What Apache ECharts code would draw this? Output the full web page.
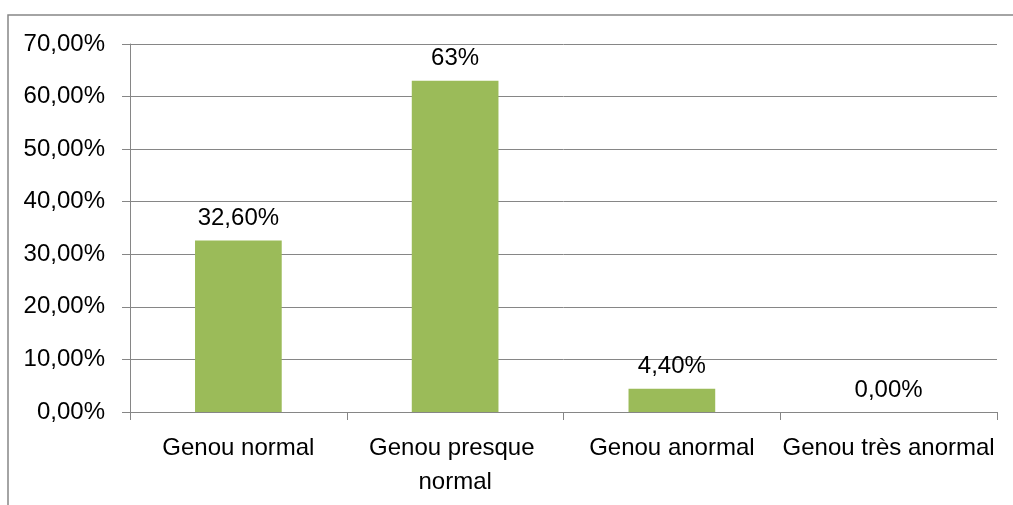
<!DOCTYPE html>
<html>
<head>
<meta charset="utf-8">
<script src="https://cdn.jsdelivr.net/npm/echarts@6/dist/echarts.min.js"></script>
<style>html,body{margin:0;padding:0;background:#fff;}#c{width:1013px;height:505px;}</style>
</head>
<body>
<div id="c"></div>
<script>
const categories = ['Genou normal', 'Genou presque normal', 'Genou anormal', 'Genou très anormal'];
const values = [32.6, 63, 4.4, 0];
const valueLabels = ['32,60%', '63%', '4,40%', '0,00%'];
const yTicks = { min: 0, max: 70, interval: 10 };

const FONT = 'Liberation Sans';
const chart = echarts.init(document.getElementById('c'), null, { renderer: 'canvas' });
chart.setOption({
  animation: false,
  textStyle: { fontFamily: FONT },
  graphic: [{
    type: 'rect', shape: { x: 8, y: 15, width: 1100, height: 600 },
    style: { fill: 'none', stroke: '#878787', lineWidth: 1.5 }, z: -1
  }],
  grid: { left: 130, top: 44, right: 16, bottom: 93, containLabel: false },
  xAxis: {
    type: 'category', data: categories,
    axisLine: { lineStyle: { color: '#868686', width: 1 } },
    axisTick: { show: true, length: 8, alignWithLabel: false, lineStyle: { color: '#868686' } },
    axisLabel: { color: '#000', fontSize: 24, fontFamily: FONT, margin: 19, interval: 0,
      width: 230, overflow: 'break', lineHeight: 34 }
  },
  yAxis: {
    type: 'value', min: yTicks.min, max: yTicks.max, interval: yTicks.interval,
    axisLine: { show: true, lineStyle: { color: '#868686', width: 1 } },
    axisTick: { show: true, length: 8, lineStyle: { color: '#868686' } },
    splitLine: { lineStyle: { color: '#868686', width: 1 } },
    axisLabel: { color: '#000', fontSize: 24, fontFamily: FONT, margin: 25,
      formatter: v => v.toFixed(2).replace('.', ',') + '%' }
  },
  series: [{
    type: 'bar', data: values, barCategoryGap: '60%',
    itemStyle: { color: '#9BBB59' },
    label: { show: true, position: 'top', distance: 10, color: '#000', fontSize: 24, fontFamily: FONT,
      formatter: p => valueLabels[p.dataIndex] }
  }]
});
</script>
</body>
</html>
